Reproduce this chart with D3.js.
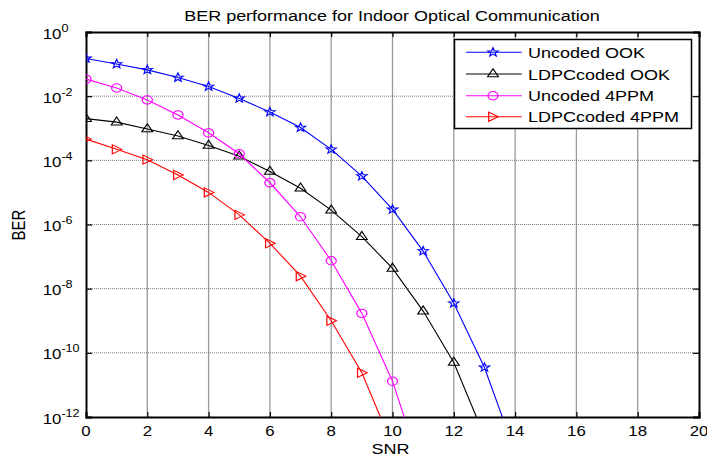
<!DOCTYPE html>
<html>
<head>
<meta charset="utf-8">
<script src="https://cdn.jsdelivr.net/npm/d3@7"></script>
<style>
  body { margin: 0; background: #fff; }
  svg { display: block; font-family: "Liberation Sans", Arial, sans-serif; }
</style>
</head>
<body>
<div id="chart"></div>
<script>
// ==============================
// Data (BER vs SNR)
// ==============================
var snr = [0, 1, 2, 3, 4, 5, 6, 7, 8, 9, 10, 11, 12, 13, 14];

var uncodedOOK   = [1.5e-1, 1.0e-1, 6.6e-2, 3.8e-2, 2.0e-2, 8.5e-3, 3.2e-3, 1.05e-3, 2.2e-4, 3.2e-5, 2.95e-6, 1.48e-7, 3.5e-9, 3.5e-11, 8e-14];
var ldpcOOK      = [2.0e-3, 1.55e-3, 9.5e-4, 5.75e-4, 2.9e-4, 1.35e-4, 4.5e-5, 1.35e-5, 2.8e-6, 4.2e-7, 4.3e-8, 2.0e-9, 5.0e-11, 2.5e-13];
var uncoded4PPM  = [3.4e-2, 1.8e-2, 7.6e-3, 2.6e-3, 7.2e-4, 1.6e-4, 2.0e-5, 1.74e-6, 7.4e-8, 1.7e-9, 1.3e-11, 1.6e-14];
var ldpc4PPM     = [4.6e-4, 2.2e-4, 1.05e-4, 3.5e-5, 1.0e-5, 2.0e-6, 2.6e-7, 2.45e-8, 1.0e-9, 2.4e-11, 1.26e-13];

var seriesNames  = ["Uncoded OOK", "LDPCcoded OOK", "Uncoded 4PPM", "LDPCcoded 4PPM"];
var seriesData   = [uncodedOOK, ldpcOOK, uncoded4PPM, ldpc4PPM];
var seriesColors = ["#0000ff", "#000000", "#ff00ff", "#ff0000"];
var seriesMarks  = ["star", "triUp", "circle", "triRight"];

var xTicks = [0, 2, 4, 6, 8, 10, 12, 14, 16, 18, 20];
var yExps  = [0, -2, -4, -6, -8, -10, -12];

// ==============================
// Setup SVG
// ==============================
var svgWidth = 707, svgHeight = 457;
var plot = { left: 86, right: 699, top: 32, bottom: 417 };
var sx = 1.2; // horizontal stretch of the original picture

var svg = d3.select("#chart").append("svg")
  .attr("width", svgWidth)
  .attr("height", svgHeight);

var xScale = d3.scaleLinear().domain([0, 20]).range([plot.left, plot.right]);
var yScale = d3.scaleLog().domain([1e-12, 1]).range([plot.bottom, plot.top]);

svg.append("defs").append("clipPath").attr("id", "clip")
  .append("rect")
  .attr("x", plot.left).attr("y", plot.top)
  .attr("width", plot.right - plot.left).attr("height", plot.bottom - plot.top);

// stretched text helper
function label(x, y, txt, size, anchor) {
  var g = svg.append("g").attr("transform", `translate(${x},${y}) scale(${sx},1)`);
  var t = g.append("text")
    .attr("text-anchor", anchor || "middle")
    .attr("font-size", size)
    .attr("fill", "#000")
    .text(txt);
  return t;
}

// ==============================
// Grid
// ==============================
svg.append("g").selectAll("line")
  .data(xTicks.slice(1, -1))
  .enter().append("line")
  .attr("x1", d => xScale(d)).attr("x2", d => xScale(d))
  .attr("y1", plot.top).attr("y2", plot.bottom)
  .attr("stroke", "#9a9a9a").attr("stroke-width", 1.3);

svg.append("g").selectAll("line")
  .data(yExps.slice(1, -1))
  .enter().append("line")
  .attr("x1", plot.left).attr("x2", plot.right)
  .attr("y1", d => yScale(Math.pow(10, d))).attr("y2", d => yScale(Math.pow(10, d)))
  .attr("stroke", "#777").attr("stroke-width", 1).attr("stroke-dasharray", "1,1");

// ==============================
// Axes (inward ticks, boxed)
// ==============================
var yTickVals = yExps.map(e => Math.pow(10, e));

svg.append("g").attr("transform", `translate(0,${plot.bottom})`)
  .call(d3.axisBottom(xScale).tickValues(xTicks).tickSize(-5).tickFormat(""));
svg.append("g").attr("transform", `translate(0,${plot.top})`)
  .call(d3.axisTop(xScale).tickValues(xTicks).tickSize(-5).tickFormat(""));
svg.append("g").attr("transform", `translate(${plot.left},0)`)
  .call(d3.axisLeft(yScale).tickValues(yTickVals).tickSize(-6).tickFormat(""));
svg.append("g").attr("transform", `translate(${plot.right},0)`)
  .call(d3.axisRight(yScale).tickValues(yTickVals).tickSize(-6).tickFormat(""));

svg.selectAll(".domain").attr("stroke", "#000").attr("stroke-width", 2);
svg.selectAll(".tick line").attr("stroke", "#000").attr("stroke-width", 1.2);

// x tick labels
xTicks.forEach(function(d) {
  label(xScale(d), 436, d, 14, "middle");
});

// y tick labels: 10^e
yExps.forEach(function(e) {
  var t = label(42.7, yScale(Math.pow(10, e)) + 6.5, "10", 14, "start");
  t.append("tspan").attr("dy", -7).attr("font-size", 10.5).text(e);
});

// axis titles
label(392, 20.5, "BER performance for Indoor Optical Communication", 15, "middle");
label(390.5, 454, "SNR", 15, "middle");
svg.append("g")
  .attr("transform", `translate(25,225) scale(${sx},1) rotate(-90)`)
  .append("text")
  .attr("text-anchor", "middle")
  .attr("font-size", 15)
  .text("BER");

// ==============================
// Markers
// ==============================
function marker(g, kind, x, y, color) {
  var m = g.append("g").attr("transform", `translate(${x},${y}) scale(${sx},1)`);
  var p;
  if (kind === "circle") {
    p = m.append("circle").attr("r", 4.2);
  } else if (kind === "star") {
    var pts = [];
    for (var i = 0; i < 10; i++) {
      var r = (i % 2 === 0) ? 4.6 : 1.9;
      var a = -Math.PI / 2 + i * Math.PI / 5;
      pts.push([r * Math.cos(a), r * Math.sin(a)]);
    }
    p = m.append("polygon").attr("points", pts.map(q => q.join(",")).join(" "));
  } else if (kind === "triUp") {
    p = m.append("polygon").attr("points", "0,-5.2 4.5,2.8 -4.5,2.8");
  } else {
    p = m.append("polygon").attr("points", "4.4,0 -3.6,-4.6 -3.6,4.6");
  }
  p.attr("fill", "none").attr("stroke", color).attr("stroke-width", 1);
}

// ==============================
// Series
// ==============================
var lineGen = d3.line()
  .x(d => xScale(d.x))
  .y(d => yScale(d.y));

var plotArea = svg.append("g").attr("clip-path", "url(#clip)");

seriesData.forEach(function(vals, i) {
  var pts = vals.map((v, j) => ({ x: snr[j], y: v }));
  plotArea.append("path")
    .datum(pts)
    .attr("d", lineGen)
    .attr("fill", "none")
    .attr("stroke", seriesColors[i])
    .attr("stroke-width", 1.1);
  pts.forEach(function(p) {
    marker(plotArea, seriesMarks[i], xScale(p.x), yScale(p.y), seriesColors[i]);
  });
});

// ==============================
// Legend
// ==============================
var leg = { x: 454.5, y: 39.5, w: 237, h: 89 };
svg.append("rect")
  .attr("x", leg.x).attr("y", leg.y)
  .attr("width", leg.w).attr("height", leg.h)
  .attr("fill", "#fff").attr("stroke", "#000").attr("stroke-width", 1.5);

var legY = [52.3, 74, 95.7, 116.7];
seriesNames.forEach(function(name, i) {
  svg.append("line")
    .attr("x1", 466).attr("x2", 521.7)
    .attr("y1", legY[i]).attr("y2", legY[i])
    .attr("stroke", seriesColors[i]).attr("stroke-width", 1.1);
  marker(svg, seriesMarks[i], 493, legY[i], seriesColors[i]);
  label(528, legY[i] + 5.5, name, 15, "start");
});
</script>
</body>
</html>
